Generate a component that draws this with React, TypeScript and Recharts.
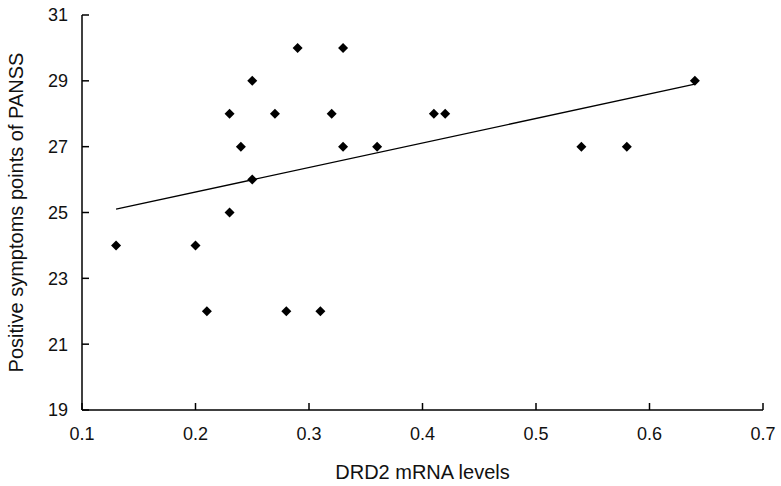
import {
  ScatterChart,
  Scatter,
  XAxis,
  YAxis,
  ReferenceLine,
  Label,
} from 'recharts';

const mrna = [0.13, 0.2, 0.21, 0.23, 0.23, 0.24, 0.25, 0.25, 0.27, 0.28, 0.29, 0.31, 0.32, 0.33, 0.33, 0.36, 0.41, 0.42, 0.54, 0.58, 0.64];
const panss = [24, 24, 22, 28, 25, 27, 29, 26, 28, 22, 30, 22, 28, 30, 27, 27, 28, 28, 27, 27, 29];

const xTicks = [0.1, 0.2, 0.3, 0.4, 0.5, 0.6, 0.7];
const yTicks = [19, 21, 23, 25, 27, 29, 31];

// fitted line at both ends
const trendX = [0.13, 0.64];
const trendY = [25.1, 28.9];

const points = mrna.map((x, i) => ({ x, y: panss[i] }));

const Diamond = (props: any) => {
  const { cx, cy } = props;
  const r = 5;
  return (
    <path
      d={`M${cx},${cy - r}L${cx + r},${cy}L${cx},${cy + r}L${cx - r},${cy}Z`}
      fill="#000"
    />
  );
};

const font = '"Liberation Sans", Arial, sans-serif';

export default function App() {
  return (
    <div style={{ position: 'absolute', left: 0, top: 0, background: '#fff' }}>
      <ScatterChart
        width={781}
        height={486}
        margin={{ top: 15, right: 18, bottom: 0, left: 0 }}
      >
        <XAxis
          type="number"
          dataKey="x"
          domain={[0.1, 0.7]}
          ticks={xTicks}
          tickFormatter={(v: number) => v.toFixed(1)}
          height={76}
          tickSize={-7}
          tickMargin={24}
          axisLine={{ stroke: '#000', strokeWidth: 1.5 }}
          tickLine={{ stroke: '#000', strokeWidth: 1.5 }}
          tick={{ fill: '#111', fontSize: 18, fontFamily: font }}
          allowDataOverflow
        >
          <Label
            value="DRD2 mRNA levels"
            position="insideBottom"
            offset={7}
            style={{ fill: '#111', fontSize: 20, fontFamily: font }}
          />
        </XAxis>
        <YAxis
          type="number"
          dataKey="y"
          domain={[19, 31]}
          ticks={yTicks}
          width={82}
          tickSize={-7}
          tickMargin={21}
          axisLine={{ stroke: '#000', strokeWidth: 1.5 }}
          tickLine={{ stroke: '#000', strokeWidth: 1.5 }}
          tick={{ fill: '#111', fontSize: 18, fontFamily: font }}
          allowDataOverflow
        >
          <Label
            value="Positive symptoms points of PANSS"
            angle={-90}
            position="insideLeft"
            offset={16}
            style={{ textAnchor: 'middle', fill: '#111', fontSize: 20, fontFamily: font }}
          />
        </YAxis>
        <ReferenceLine
          segment={[
            { x: trendX[0], y: trendY[0] },
            { x: trendX[1], y: trendY[1] },
          ]}
          stroke="#000"
          strokeWidth={1.3}
        />
        <Scatter data={points} shape={<Diamond />} isAnimationActive={false} />
      </ScatterChart>
    </div>
  );
}
